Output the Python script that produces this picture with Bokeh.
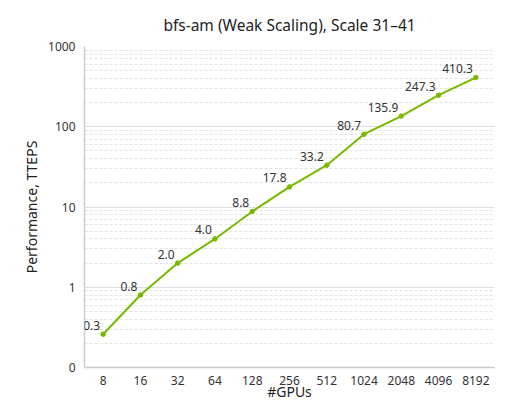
from bokeh.plotting import figure
from bokeh.models import ColumnDataSource, FixedTicker, CustomJSTickFormatter, Range1d, LabelSet
from bokeh.core.properties import value
from bokeh.embed import file_html
from bokeh.resources import INLINE

# data
gpus = ["8", "16", "32", "64", "128", "256", "512", "1024", "2048", "4096", "8192"]
tteps = [0.26, 0.8, 2.0, 4.0, 8.8, 17.8, 33.2, 80.7, 135.9, 247.3, 410.3]
y_ticks = [0.1, 1, 10, 100, 1000]

FONT = "Noto Sans"
GREEN = "#76b900"

source = ColumnDataSource(data=dict(
    x=gpus,
    y=tteps,
    label=["%.1f" % v for v in tteps],
))

p = figure(x_range=gpus, y_range=Range1d(0.1, 1000), y_axis_type="log",
           width=503, height=403, output_backend="svg", toolbar_location=None,
           title="bfs-am (Weak Scaling), Scale 31\u201341",
           min_border_left=84, min_border_right=9, min_border_top=45, min_border_bottom=35)

p.outline_line_color = None
p.background_fill_color = "white"

p.title.align = "center"
p.title.text_font = FONT
p.title.text_font_size = "15.5px"
p.title.text_font_style = "normal"
p.title.text_color = "#222222"
p.title.standoff = 22

# log ticks with minor lines between decades
minor = []
for d in [0.1, 1, 10, 100]:
    for k in range(2, 10):
        minor.append(d * k)
p.yaxis.ticker = FixedTicker(ticks=y_ticks, minor_ticks=minor)
p.yaxis.formatter = CustomJSTickFormatter(code="return tick < 0.5 ? '0' : String(Math.round(tick));")

for ax in [p.xaxis[0], p.yaxis[0]]:
    ax.axis_line_color = "#cccccc"
    ax.axis_line_width = 1.5
    ax.major_tick_line_color = None
    ax.minor_tick_line_color = None
    ax.major_tick_out = 0
    ax.minor_tick_out = 0
    ax.major_label_text_font = FONT
    ax.major_label_text_font_size = "12px"
    ax.major_label_text_color = "#333333"
    ax.axis_label_text_font = FONT
    ax.axis_label_text_font_size = "14px"
    ax.axis_label_text_font_style = "normal"
    ax.axis_label_text_color = "#222222"

p.xaxis.axis_label = "#GPUs"
p.yaxis.axis_label = "Performance, TTEPS"
p.xaxis.major_label_standoff = 8
p.yaxis.major_label_standoff = 9
p.xaxis.axis_label_standoff = -6
p.yaxis.axis_label_standoff = 4

p.xgrid.grid_line_color = None
p.ygrid.grid_line_color = "#dddddd"
p.ygrid.grid_line_width = 1.2
p.ygrid.minor_grid_line_color = "#e3e3e3"
p.ygrid.minor_grid_line_dash = "3 2"

p.line("x", "y", source=source, line_color=GREEN, line_width=2)
p.scatter("x", "y", source=source, size=4.5, fill_color=GREEN, line_color=GREEN)
p.add_layout(LabelSet(x="x", y="y", text="label", source=source, text_align="right",
                      text_baseline="middle", x_offset=-3, y_offset=9, text_font=value(FONT),
                      text_font_size=value("12px"), text_color=value("#333333")))

open("out.html", "w").write(file_html(p, INLINE))
